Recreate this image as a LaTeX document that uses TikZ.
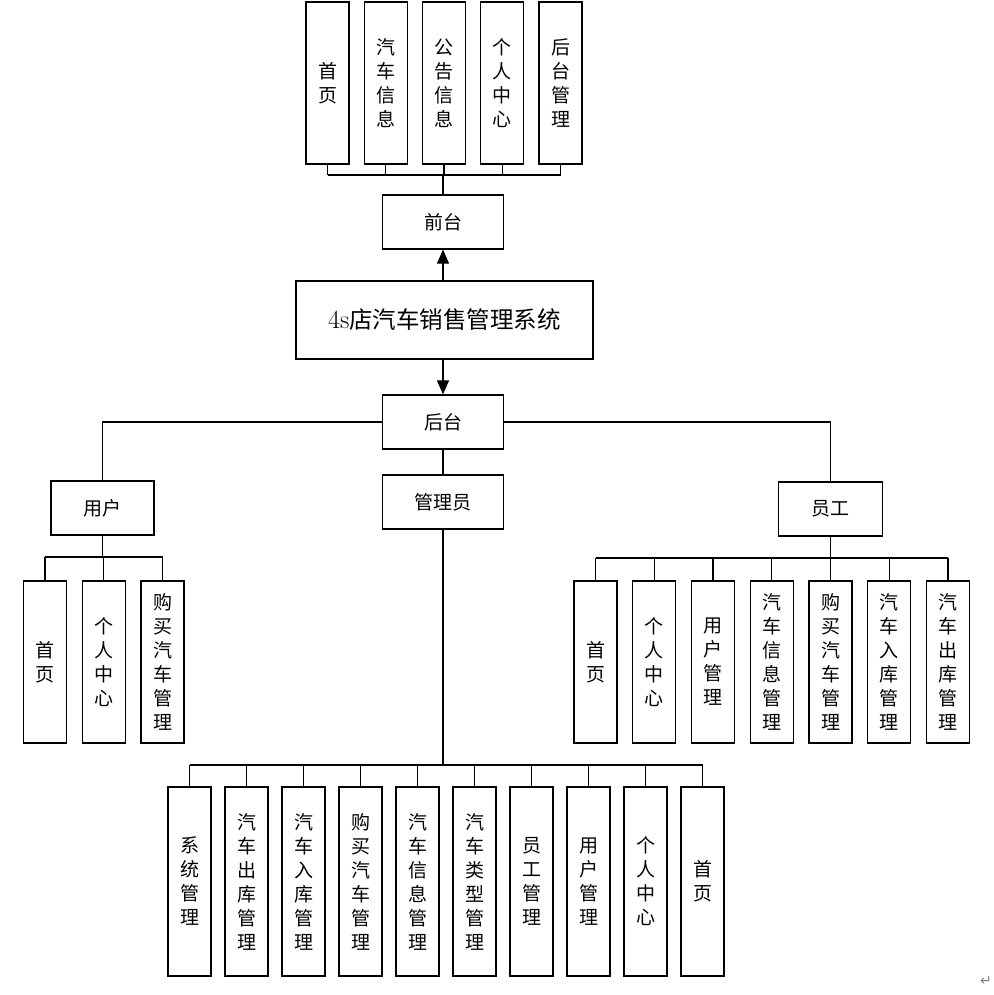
\documentclass[tikz,border=0pt]{standalone}
\usepackage{fontspec}
\newfontfamily\cjk{Noto Sans CJK SC}
\newfontfamily\dejavu{DejaVu Sans}
\usetikzlibrary{arrows.meta}
\tikzset{
  box/.style={draw, line width=1.2pt, inner sep=0pt, align=center,
    font=\cjk\fontsize{19}{24}\selectfont},
  tallbox/.style={box, minimum width=43pt, minimum height=162pt},
  longbox/.style={box, minimum width=43pt, minimum height=189pt},
  hbox/.style={box, minimum width=121pt, minimum height=54pt},
  rolebox/.style={box, minimum width=103pt, minimum height=54pt},
  link/.style={line width=1.2pt},
  arrowlink/.style={link, -{Triangle[length=14pt,width=12pt]}},
}
\begin{document}
\begin{tikzpicture}[x=1pt,y=-1pt]
\useasboundingbox (0,0) rectangle (993,995);
% main system and the two parts
\node[box, minimum width=297pt, minimum height=78pt,
  font=\cjk\fontsize{23.5}{28}\selectfont] (sys) at (444.5,320) {{\rmfamily\fontsize{26}{28}\selectfont 4s}店汽车销售管理系统};
\node[hbox] (front) at (443,222) {前台};
\node[hbox] (back) at (443,422) {后台};
\draw[arrowlink] (sys.north -| front) -- (front.south);
\draw[arrowlink] (sys.south -| back) -- (back.north);

% front pages
\coordinate (fbus) at (443,175);
\foreach \t [count=\i] in {首\\页, 汽\\车\\信\\息, 公\\告\\信\\息, 个\\人\\中\\心, 后\\台\\管\\理}
{
  \node[tallbox] (f\i) at ({327.5+58.25*(\i-1)},83) {\t};
  \draw[link] (f\i.south) -- (f\i.south |- fbus);
}
\draw[link] (f1.south |- fbus) -- (f5.south |- fbus);
\draw[link] (fbus) -- (front.north);

% roles
\node[rolebox] (user) at (102.5,508) {用户};
\node[hbox] (admin) at (443,502) {管理员};
\node[rolebox, minimum width=104pt] (staff) at (830.5,509) {员工};
\draw[link] (back.west) -| (user.north);
\draw[link] (back.east) -| (staff.north);
\draw[link] (back.south) -- (admin.north);

% user pages
\coordinate (ubus) at (102.5,557);
\foreach \t [count=\i] in {首\\页, 个\\人\\中\\心, 购\\买\\汽\\车\\管\\理}
{
  \node[tallbox] (u\i) at ({45+58.75*(\i-1)},662) {\t};
  \draw[link] (u\i.north) -- (u\i.north |- ubus);
}
\draw[link] (u1.north |- ubus) -- (u3.north |- ubus);
\draw[link] (user.south) -- (ubus);

% staff pages
\coordinate (sbus) at (830.5,558);
\foreach \t [count=\i] in {首\\页, 个\\人\\中\\心, 用\\户\\管\\理, 汽\\车\\信\\息\\管\\理,
  购\\买\\汽\\车\\管\\理, 汽\\车\\入\\库\\管\\理, 汽\\车\\出\\库\\管\\理}
{
  \node[tallbox] (s\i) at ({595.5+58.75*(\i-1)},662) {\t};
  \draw[link] (s\i.north) -- (s\i.north |- sbus);
}
\draw[link] (s1.north |- sbus) -- (s7.north |- sbus);
\draw[link] (staff.south) -- (sbus);

% admin pages
\coordinate (abus) at (443,765);
\foreach \t [count=\i] in {系\\统\\管\\理, 汽\\车\\出\\库\\管\\理, 汽\\车\\入\\库\\管\\理,
  购\\买\\汽\\车\\管\\理, 汽\\车\\信\\息\\管\\理, 汽\\车\\类\\型\\管\\理,
  员\\工\\管\\理, 用\\户\\管\\理, 个\\人\\中\\心, 首\\页}
{
  \node[longbox] (a\i) at ({189.5+57*(\i-1)},881.5) {\t};
  \draw[link] (a\i.north) -- (a\i.north |- abus);
}
\draw[link] (a1.north |- abus) -- (a10.north |- abus);
\draw[link] (admin.south) -- (abus);

\node[text=gray, font=\dejavu\fontsize{14}{14}\selectfont] (mark) at (986,981) {↵};
\end{tikzpicture}
\end{document}
